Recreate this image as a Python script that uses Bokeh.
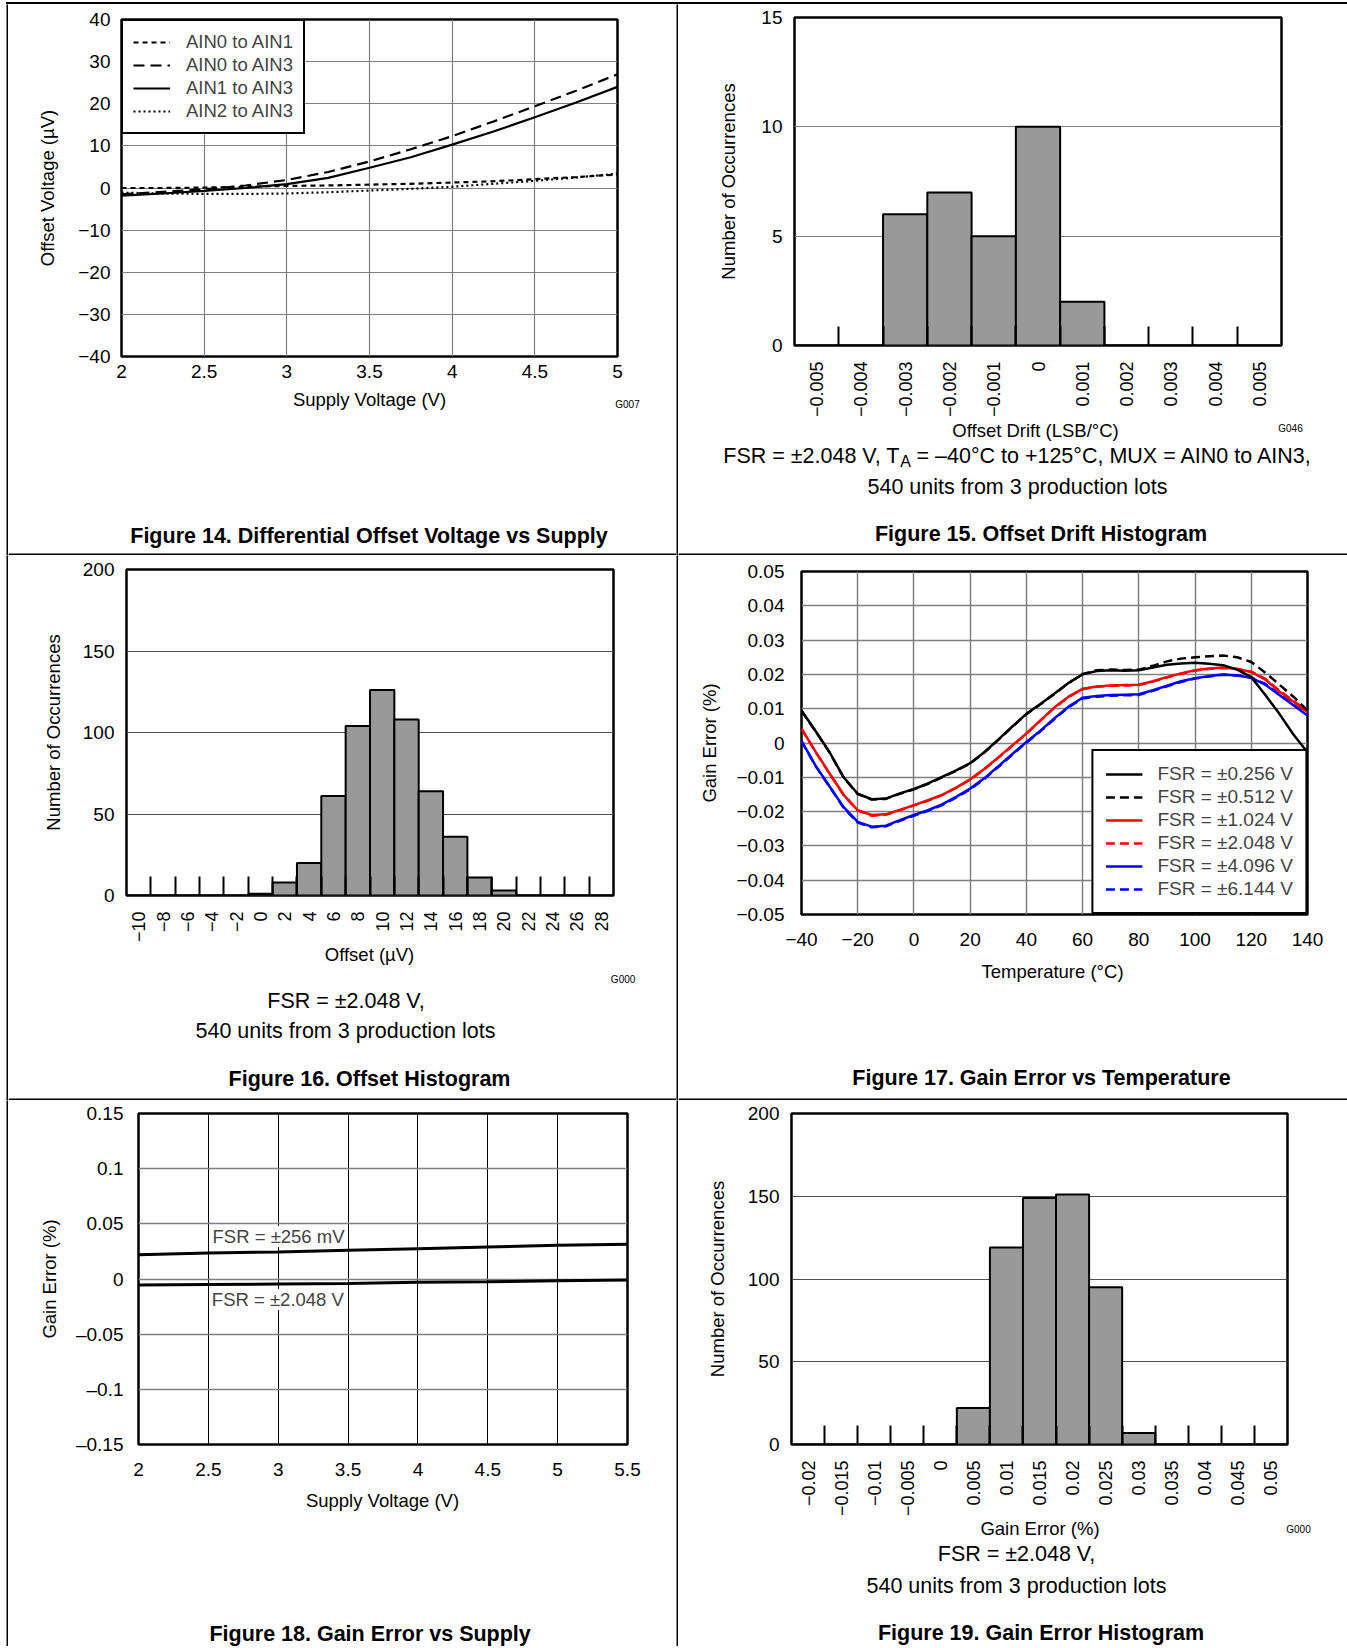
import math
from bokeh.plotting import figure
from bokeh.models import Range1d, FixedTicker, Label, Legend, LegendItem, Spacer, BoxAnnotation
from bokeh.layouts import column, row
from bokeh.embed import file_html
from bokeh.resources import INLINE

FONT = "Liberation Sans"
NOTE = "21.5px"

# ---------------- Figure 14 data ----------------
f14_supply = [2.0, 2.25, 2.5, 2.75, 3.0, 3.25, 3.5, 3.75, 4.0, 4.25, 4.5, 4.75, 5.0]
f14_ain0_ain1 = [0.0, 0.0, 0.1, 0.3, 0.5, 0.6, 0.8, 1.0, 1.3, 1.6, 2.1, 2.6, 3.2]
f14_ain0_ain3 = [-1.5, -0.9, -0.3, 0.6, 1.9, 3.8, 6.3, 9.2, 12.3, 15.8, 19.4, 23.1, 27.0]
f14_ain1_ain3 = [-1.8, -1.3, -0.7, 0.0, 0.9, 2.4, 4.8, 7.3, 10.3, 13.4, 16.8, 20.3, 24.0]
f14_ain2_ain3 = [-1.1, -1.3, -1.4, -1.4, -1.3, -1.0, -0.6, -0.2, 0.3, 1.0, 1.7, 2.5, 3.4]
f14_series_names = ["AIN0 to AIN1", "AIN0 to AIN3", "AIN1 to AIN3", "AIN2 to AIN3"]
f14_xticks = [2.0, 2.5, 3.0, 3.5, 4.0, 4.5, 5.0]
f14_xlabels = ["2", "2.5", "3", "3.5", "4", "4.5", "5"]
f14_yticks = [-40, -30, -20, -10, 0, 10, 20, 30, 40]
f14_ylabels = ["\u221240", "\u221230", "\u221220", "\u221210", "0", "10", "20", "30", "40"]

# ---------------- Figure 15 data ----------------
f15_bins = ["\u22120.005", "\u22120.004", "\u22120.003", "\u22120.002", "\u22120.001", "0",
            "0.001", "0.002", "0.003", "0.004", "0.005"]
f15_counts = [0, 0, 6, 7, 5, 10, 2, 0, 0, 0, 0]
f15_yticks = [0, 5, 10, 15]

# ---------------- Figure 16 data ----------------
f16_bins = ["\u221210", "\u22128", "\u22126", "\u22124", "\u22122", "0", "2", "4", "6", "8",
            "10", "12", "14", "16", "18", "20", "22", "24", "26", "28"]
f16_counts = [0, 0, 0, 0, 0, 1, 8, 20, 61, 104, 126, 108, 64, 36, 11, 3, 0, 0, 0, 0]
f16_yticks = [0, 50, 100, 150, 200]

# ---------------- Figure 17 data ----------------
f17_temp = [-40, -35, -30, -25, -20, -15, -10, -5, 0, 5, 10, 15, 20, 25, 30, 35, 40, 45, 50,
            55, 60, 65, 70, 75, 80, 85, 90, 95, 100, 105, 110, 115, 120, 125, 130, 135, 140]
f17_fsr0256 = [0.0095, 0.0035, -0.0027, -0.0100, -0.0148, -0.0164, -0.0162, -0.0147, -0.0134,
               -0.0118, -0.0099, -0.0080, -0.0059, -0.0027, 0.0010, 0.0048, 0.0085, 0.0114,
               0.0144, 0.0175, 0.0200, 0.0210, 0.0212, 0.0211, 0.0212, 0.0220, 0.0228, 0.0232,
               0.0234, 0.0231, 0.0227, 0.0214, 0.0192, 0.0140, 0.0085, 0.0025, -0.0027]
f17_fsr0512 = [0.0094, 0.0034, -0.0028, -0.0101, -0.0149, -0.0165, -0.0163, -0.0148, -0.0135,
               -0.0119, -0.0100, -0.0081, -0.0060, -0.0028, 0.0009, 0.0047, 0.0084, 0.0113,
               0.0143, 0.0175, 0.0201, 0.0212, 0.0214, 0.0213, 0.0214, 0.0225, 0.0238, 0.0246,
               0.0250, 0.0253, 0.0255, 0.0250, 0.0236, 0.0205, 0.0170, 0.0135, 0.0095]
f17_fsr1024 = [0.0042, -0.0025, -0.0089, -0.0151, -0.0196, -0.0210, -0.0208, -0.0195, -0.0181,
               -0.0167, -0.0151, -0.0130, -0.0106, -0.0076, -0.0042, -0.0007, 0.0028, 0.0066,
               0.0104, 0.0135, 0.0158, 0.0165, 0.0168, 0.0169, 0.0170, 0.0180, 0.0192, 0.0203,
               0.0212, 0.0217, 0.0220, 0.0216, 0.0207, 0.0185, 0.0150, 0.0120, 0.0090]
f17_fsr2048 = [0.0041, -0.0026, -0.0090, -0.0152, -0.0197, -0.0212, -0.0209, -0.0196, -0.0182,
               -0.0168, -0.0152, -0.0131, -0.0107, -0.0077, -0.0043, -0.0008, 0.0027, 0.0065,
               0.0103, 0.0134, 0.0157, 0.0164, 0.0167, 0.0168, 0.0169, 0.0179, 0.0191, 0.0202,
               0.0211, 0.0216, 0.0219, 0.0216, 0.0208, 0.0187, 0.0153, 0.0123, 0.0093]
f17_fsr4096 = [0.0006, -0.0066, -0.0127, -0.0187, -0.0230, -0.0244, -0.0241, -0.0225, -0.0210,
               -0.0196, -0.0179, -0.0157, -0.0133, -0.0103, -0.0068, -0.0032, 0.0003, 0.0036,
               0.0072, 0.0106, 0.0132, 0.0137, 0.0140, 0.0141, 0.0142, 0.0154, 0.0167, 0.0180,
               0.0189, 0.0195, 0.0200, 0.0197, 0.0190, 0.0170, 0.0140, 0.0110, 0.0080]
f17_fsr6144 = [0.0005, -0.0067, -0.0128, -0.0189, -0.0232, -0.0246, -0.0243, -0.0227, -0.0212,
               -0.0198, -0.0181, -0.0159, -0.0135, -0.0105, -0.0070, -0.0034, 0.0001, 0.0034,
               0.0070, 0.0104, 0.0130, 0.0135, 0.0138, 0.0139, 0.0140, 0.0152, 0.0165, 0.0178,
               0.0188, 0.0194, 0.0199, 0.0197, 0.0191, 0.0172, 0.0142, 0.0112, 0.0082]
f17_names = ["FSR = \u00b10.256 V", "FSR = \u00b10.512 V", "FSR = \u00b11.024 V",
             "FSR = \u00b12.048 V", "FSR = \u00b14.096 V", "FSR = \u00b16.144 V"]
f17_xticks = [-40, -20, 0, 20, 40, 60, 80, 100, 120, 140]
f17_xlabels = ["\u221240", "\u221220", "0", "20", "40", "60", "80", "100", "120", "140"]
f17_yticks = [-0.05, -0.04, -0.03, -0.02, -0.01, 0, 0.01, 0.02, 0.03, 0.04, 0.05]
f17_ylabels = ["\u22120.05", "\u22120.04", "\u22120.03", "\u22120.02", "\u22120.01", "0",
               "0.01", "0.02", "0.03", "0.04", "0.05"]

# ---------------- Figure 18 data ----------------
f18_supply = [2.0, 2.5, 3.0, 3.5, 4.0, 4.5, 5.0, 5.5]
f18_fsr256mv = [0.0220, 0.0235, 0.0245, 0.0260, 0.0275, 0.0290, 0.0305, 0.0315]
f18_fsr2048v = [-0.0055, -0.0050, -0.0045, -0.0040, -0.0030, -0.0025, -0.0015, -0.0010]
f18_xticks = [2.0, 2.5, 3.0, 3.5, 4.0, 4.5, 5.0, 5.5]
f18_xlabels = ["2", "2.5", "3", "3.5", "4", "4.5", "5", "5.5"]
f18_yticks = [-0.15, -0.1, -0.05, 0, 0.05, 0.1, 0.15]
f18_ylabels = ["\u20130.15", "\u20130.1", "\u20130.05", "0", "0.05", "0.1", "0.15"]

# ---------------- Figure 19 data ----------------
f19_bins = ["\u22120.02", "\u22120.015", "\u22120.01", "\u22120.005", "0", "0.005", "0.01",
            "0.015", "0.02", "0.025", "0.03", "0.035", "0.04", "0.045", "0.05"]
f19_counts = [0, 0, 0, 0, 0, 22, 119, 149, 151, 95, 7, 0, 0, 0, 0]
f19_yticks = [0, 50, 100, 150, 200]


# ---------------- helpers ----------------
def no_align(p):
    try:
        p.frame_align = False
    except Exception:
        pass


def make_fig(W, H, left, top, fw, fh, xr, yr):
    p = figure(width=W, height=H, x_range=Range1d(*xr), y_range=Range1d(*yr),
               output_backend="svg", toolbar_location=None, title=None,
               min_border_left=left, min_border_right=W - left - fw,
               min_border_top=top, min_border_bottom=H - top - fh)
    no_align(p)
    p.background_fill_color = "white"
    p.border_fill_color = "white"
    p.outline_line_color = "black"
    p.outline_line_width = 2.5
    p.outline_line_alpha = 1.0
    for ax in p.axis:
        ax.axis_line_color = None
        ax.major_tick_in = 0
        ax.major_tick_out = 0
        ax.minor_tick_in = 0
        ax.minor_tick_out = 0
        ax.major_label_text_font = FONT
        ax.major_label_text_font_size = "19px"
        ax.major_label_text_color = "black"
        ax.axis_label_text_font = FONT
        ax.axis_label_text_font_size = "18.5px"
        ax.axis_label_text_font_style = "normal"
        ax.axis_label_text_color = "black"
    return p


def text_fig(W, H, rule_below=False):
    t = figure(width=W, height=H, x_range=Range1d(0, W), y_range=Range1d(H, 0),
               x_axis_type=None, y_axis_type=None, output_backend="svg",
               toolbar_location=None, title=None, min_border=0)
    no_align(t)
    t.outline_line_color = None
    t.background_fill_color = "white"
    t.border_fill_color = "white"
    if rule_below:
        # cell separator line along the bottom edge of the cell
        t.add_layout(BoxAnnotation(left=0, right=W, top=H - 2, bottom=H, fill_color="black",
                                   fill_alpha=1.0, line_color=None))
    return t


def vrule(H):
    r = figure(width=2, height=H, x_axis_type=None, y_axis_type=None, output_backend="svg",
               toolbar_location=None, title=None, min_border=0)
    no_align(r)
    r.outline_line_color = None
    r.background_fill_color = "black"
    r.border_fill_color = "black"
    return r


def tlabel(t, x, y, text, size=NOTE, style="normal", align="center"):
    t.add_layout(Label(x=x, y=y, text=text, text_align=align, text_baseline="middle",
                       text_font=FONT, text_font_size=size, text_font_style=style,
                       text_color="black"))


def set_axis(ax, ticks, labels, standoff, label, label_standoff):
    ax.ticker = FixedTicker(ticks=ticks)
    if labels is not None:
        ax.major_label_overrides = dict(zip(ticks, labels))
    ax.major_label_standoff = standoff
    ax.axis_label = label
    ax.axis_label_standoff = label_standoff


def set_grid(grid, ticks, color, width):
    grid.ticker = FixedTicker(ticks=ticks)
    grid.grid_line_color = color
    grid.grid_line_width = width
    grid.grid_line_alpha = 1.0


def histogram(W, H, left, top, fw, fh, bins, counts, yticks, ymax, ystand, ylabstand,
              grid_color):
    idx = list(range(len(bins)))
    p = make_fig(W, H, left, top, fw, fh, (-0.5, len(bins) - 0.5), (0, ymax))
    p.xgrid.visible = False
    set_grid(p.ygrid, yticks, grid_color, 1.2)
    p.vbar(x=idx, top=counts, bottom=0, width=1.0, fill_color="#999999",
           line_color="black", line_width=2)
    ax = p.xaxis[0]
    ax.ticker = FixedTicker(ticks=idx, minor_ticks=[i + 0.5 for i in idx[:-1]])
    ax.major_label_overrides = dict(zip(idx, bins))
    ax.major_label_orientation = math.pi / 2
    ax.major_label_text_font_size = "18px"
    ax.major_label_standoff = 16
    ax.minor_tick_in = 19
    ax.minor_tick_out = 0
    ax.minor_tick_line_color = "black"
    ax.minor_tick_line_width = 2
    set_axis(p.yaxis[0], yticks, None, 12, "Number of Occurrences", ylabstand)
    return p


W1, W2 = 668, 669

# ---------------- Figure 14 ----------------
c11 = make_fig(W1, 384, 113, 15, 496, 337, (2, 5), (-40, 40))
set_grid(c11.xgrid, f14_xticks, "#808080", 1.2)
set_grid(c11.ygrid, f14_yticks, "#808080", 1.2)
set_axis(c11.xaxis[0], f14_xticks, f14_xlabels, 8, "", 0)
set_axis(c11.yaxis[0], f14_yticks, f14_ylabels, 11, "Offset Voltage (\u00b5V)", 17)
f14_series = [f14_ain0_ain1, f14_ain0_ain3, f14_ain1_ain3, f14_ain2_ain3]
f14_dash = ["5 4", "11 6", "solid", "2 3"]
items = []
for name, ys, dash in zip(f14_series_names, f14_series, f14_dash):
    r = c11.line(f14_supply, ys, line_color="black", line_width=2.2, line_dash=dash)
    items.append(LegendItem(label=name, renderers=[r]))
c11.add_layout(Legend(items=items, location="top_left", margin=0, padding=10, spacing=1,
                      label_height=20, glyph_height=20, glyph_width=37, label_standoff=16,
                      label_text_font=FONT, label_text_font_size="18.5px",
                      border_line_color="black", border_line_width=2, border_line_alpha=1.0,
                      background_fill_color="white", background_fill_alpha=1.0))
t11 = text_fig(W1, 167, rule_below=True)
tlabel(t11, 361, 10.5, "Supply Voltage (V)", size="18.5px")
tlabel(t11, 619, 15.5, "G007", size="10px")
tlabel(t11, 360.5, 147, "Figure 14. Differential Offset Voltage vs Supply", style="bold")

# ---------------- Figure 15 ----------------
c12 = histogram(W2, 416, 116, 13, 487, 329, f15_bins, f15_counts, f15_yticks, 15, 12, 19,
                "#808080")
t12 = text_fig(W2, 135, rule_below=True)
tlabel(t12, 357, 9.5, "Offset Drift (LSB/\u00b0C)", size="18.5px")
tlabel(t12, 612, 8, "G046", size="10px")
tlabel(t12, 221.3, 35, "FSR = \u00b12.048 V, T", align="right")
tlabel(t12, 221.8, 40.5, "A", size="16px", align="left")
tlabel(t12, 238, 35, "= \u201340\u00b0C to +125\u00b0C, MUX = AIN0 to AIN3,", align="left")
tlabel(t12, 339, 66, "540 units from 3 production lots")
tlabel(t12, 362.5, 113, "Figure 15. Offset Drift Histogram", style="bold")

# ---------------- Figure 16 ----------------
c21 = histogram(W1, 390, 118, 14, 487, 330, f16_bins, f16_counts, f16_yticks, 200, 12, 16,
                "#505050")
t21 = text_fig(W1, 155, rule_below=True)
tlabel(t21, 361, 9, "Offset (\u00b5V)", size="18.5px")
tlabel(t21, 614.6, 33.5, "G000", size="10px")
tlabel(t21, 337.5, 55.5, "FSR = \u00b12.048 V,")
tlabel(t21, 337, 85, "540 units from 3 production lots")
tlabel(t21, 361, 133, "Figure 16. Offset Histogram", style="bold")

# ---------------- Figure 17 ----------------
c22 = make_fig(W2, 401, 123, 16, 506, 343, (-40, 140), (-0.05, 0.05))
set_grid(c22.xgrid, f17_xticks, "#808080", 1.5)
set_grid(c22.ygrid, f17_yticks, "#808080", 1.5)
set_axis(c22.xaxis[0], f17_xticks, f17_xlabels, 18, "", 0)
set_axis(c22.yaxis[0], f17_yticks, f17_ylabels, 17, "Gain Error (%)", 13)
f17_series = [f17_fsr0256, f17_fsr0512, f17_fsr1024, f17_fsr2048, f17_fsr4096, f17_fsr6144]
f17_colors = ["black", "black", "#ff0000", "#ff0000", "#0000ff", "#0000ff"]
f17_dash = ["solid", "9 5", "solid", "9 5", "solid", "9 5"]
rend = {}
for k in [5, 4, 3, 2, 1, 0]:
    rend[k] = c22.line(f17_temp, f17_series[k], line_color=f17_colors[k], line_width=2.5,
                       line_dash=f17_dash[k])
c22.add_layout(Legend(items=[LegendItem(label=f17_names[k], renderers=[rend[k]])
                             for k in range(6)],
                      location="bottom_right", margin=0, padding=12, spacing=1,
                      label_height=20, glyph_height=20, glyph_width=37, label_standoff=15,
                      label_text_font=FONT, label_text_font_size="19px",
                      border_line_color="black", border_line_width=2, border_line_alpha=1.0,
                      background_fill_color="white", background_fill_alpha=1.0))
t22 = text_fig(W2, 144, rule_below=True)
tlabel(t22, 374, 15, "Temperature (\u00b0C)", size="18.5px")
tlabel(t22, 363, 121.5, "Figure 17. Gain Error vs Temperature", style="bold")

# ---------------- Figure 18 ----------------
c31 = make_fig(W1, 386, 130, 13, 489, 331, (2, 5.5), (-0.15, 0.15))
set_grid(c31.xgrid, f18_xticks, "#000000", 1.0)
set_grid(c31.ygrid, f18_yticks, "#808080", 1.5)
set_axis(c31.xaxis[0], f18_xticks, f18_xlabels, 18, "", 0)
set_axis(c31.yaxis[0], f18_yticks, f18_ylabels, 15, "Gain Error (%)", 13)
c31.line(f18_supply, f18_fsr256mv, line_color="black", line_width=3)
c31.line(f18_supply, f18_fsr2048v, line_color="black", line_width=3)
c31.add_layout(Label(x=2.53, y=0.0385, text="FSR = \u00b1256 mV", text_align="left",
                     text_baseline="middle", text_font=FONT, text_font_size="18.5px",
                     background_fill_color="white", background_fill_alpha=1.0))
c31.add_layout(Label(x=2.525, y=-0.0186, text="FSR = \u00b12.048 V", text_align="left",
                     text_baseline="middle", text_font=FONT, text_font_size="18.5px",
                     background_fill_color="white", background_fill_alpha=1.0))
t31 = text_fig(W1, 160)
tlabel(t31, 374, 14, "Supply Voltage (V)", size="18.5px")
tlabel(t31, 361.6, 147, "Figure 18. Gain Error vs Supply", style="bold")

# ---------------- Figure 19 ----------------
c32 = histogram(W2, 419, 113, 13, 496, 334, f19_bins, f19_counts, f19_yticks, 200, 12, 17,
                "#505050")
t32 = text_fig(W2, 127)
tlabel(t32, 361.5, 8.5, "Gain Error (%)", size="18.5px")
tlabel(t32, 620, 10, "G000", size="10px")
tlabel(t32, 338, 34, "FSR = \u00b12.048 V,")
tlabel(t32, 338, 66, "540 units from 3 production lots")
tlabel(t32, 362.5, 113, "Figure 19. Gain Error Histogram", style="bold")

# ---------------- page layout with cell rules ----------------
RH1, RH2, RH3 = 551, 545, 546


def cells_row(h, a, b):
    return row(Spacer(width=6, height=h), vrule(h), a, vrule(h), b)


top_rule = row(Spacer(width=6, height=2),
               Spacer(width=1341, height=2, styles={"background-color": "black"}))

page = column(
    Spacer(width=1347, height=2),
    top_rule,
    cells_row(RH1, column(c11, t11), column(c12, t12)),
    cells_row(RH2, column(c21, t21), column(c22, t22)),
    cells_row(RH3, column(c31, t31), column(c32, t32)),
)
open("out.html", "w").write(file_html(page, INLINE))
